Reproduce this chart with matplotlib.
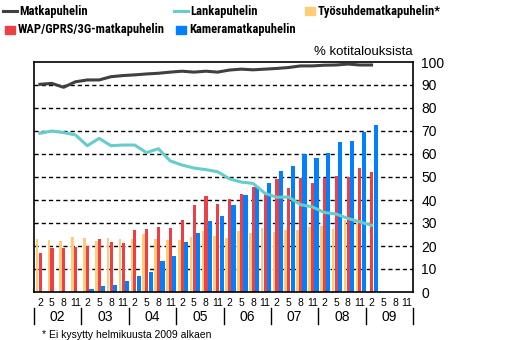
import numpy as np
import matplotlib
matplotlib.use("Agg")
import matplotlib.pyplot as plt
from matplotlib.lines import Line2D
from matplotlib.patches import Rectangle
from matplotlib.transforms import blended_transform_factory
from matplotlib import font_manager

plt.rcParams['font.family'] = ['Liberation Sans', 'DejaVu Sans']

nan = np.nan

# quarters 2002 Q(2) .. 2009 Q(2), months 2, 5, 8, 11
years = ['02', '03', '04', '05', '06', '07', '08', '09']
months = ['2', '5', '8', '11']

matka = [90.3, 90.7, 89.0, 91.4, 92.2, 92.2, 93.6, 94.1, 94.4, 94.8, 95.1, 95.6,
         96.0, 95.6, 96.0, 95.6, 96.5, 96.9, 96.6, 96.9, 97.2, 97.6, 98.3, 98.3,
         98.6, 98.7, 99.1, 98.7, 98.7]
lanka = [69.0, 70.0, 69.3, 68.3, 63.6, 66.8, 63.6, 63.9, 63.9, 60.6, 62.3, 57.0,
         55.2, 53.9, 53.2, 52.3, 49.2, 47.8, 47.2, 42.9, 41.2, 41.3, 38.0, 37.0,
         34.6, 33.9, 32.0, 30.5, 29.0]
tyosuhde = [23.2, 22.8, 22.3, 24.1, 23.6, 22.3, 23.6, 23.2, 23.1, 25.2, 23.0, 22.6,
            22.6, 23.9, 26.5, 24.3, 23.5, 26.5, 25.7, 27.8, 26.1, 27.0, 27.0, 28.3,
            28.7, 27.4, 31.3, 30.0, nan]
wap = [17.1, 19.3, 19.3, 19.7, 20.1, 23.2, 21.9, 21.4, 27.0, 27.4, 28.3, 27.8,
       31.3, 37.8, 41.7, 38.3, 40.4, 42.6, 45.7, 42.6, 49.1, 45.2, 49.6, 47.4,
       49.6, 50.4, 50.0, 53.9, 52.2]
kamera = [nan, nan, nan, nan, 1.4, 2.8, 3.2, 4.9, 7.0, 8.7, 13.3, 15.7,
          21.7, 25.7, 30.9, 33.0, 37.8, 42.2, 46.1, 47.4, 52.6, 54.8, 60.0, 58.3,
          60.4, 65.2, 65.7, 69.6, 72.6]

c_matka = '#404040'
c_lanka = '#66CCCC'
c_tyo = '#FFCC77'
c_wap = '#EE3F45'
c_kam = '#0080FF'

fig = plt.figure(figsize=(5.19, 3.40), dpi=100)
ax = fig.add_axes([34 / 519, 48 / 340, 379 / 519, 230 / 340])

x = np.arange(len(matka))
ax.bar(x - 0.24, tyosuhde, width=0.22, color=c_tyo, zorder=2)
ax.bar(x + 0.02, wap, width=0.26, color=c_wap, zorder=2)
ax.bar(x + 0.35, kamera, width=0.36, color=c_kam, zorder=2)
ax.plot(x, lanka, color=c_lanka, lw=2.2, zorder=3)
ax.plot(x, matka, color=c_matka, lw=2.2, zorder=3)

n_slots = len(years) * len(months)
ax.set_xlim(-0.5, n_slots - 0.5)
ax.set_ylim(0, 100)
ax.set_yticks(range(0, 101, 10))
ax.yaxis.tick_right()
ax.tick_params(axis='y', length=0, pad=6, labelsize=10)
for yv in range(10, 100, 10):
    ax.axhline(yv, color='black', lw=1, ls=(0, (3, 2.2)), zorder=1)
for s in ax.spines.values():
    s.set_linewidth(1.2)

ax.set_xticks(range(n_slots))
ax.set_xticklabels(months * len(years))
ax.tick_params(axis='x', length=0, pad=4, labelsize=7.5)

tr = blended_transform_factory(ax.transData, ax.transAxes)
for i in range(len(years) + 1):
    ax.plot([i * 4 - 0.5] * 2, [-0.07, -0.139], color='black', lw=1,
            transform=tr, clip_on=False)
for i, yr in enumerate(years):
    ax.text(i * 4 + 1.5, -0.108, yr, transform=tr, ha='center', va='center',
            fontsize=10)

ax.text(1.0, 1.045, '% kotitalouksista', transform=ax.transAxes, ha='right',
        va='center', fontsize=9.5)

fig.text(42 / 519, 1 - 335 / 340, '* Ei kysytty helmikuusta 2009 alkaen',
         ha='left', va='center', fontsize=7.5)

# legend, placed by hand; narrow bold face if one is there
names = {f.name for f in font_manager.fontManager.ttflist}
narrow = [n for n in ['Liberation Sans Narrow', 'DejaVu Sans Condensed', 'Roboto Condensed']
          if n in names]
if narrow:
    lfont = dict(fontsize=9, fontweight='bold', family=[narrow[0], 'DejaVu Sans'])
else:
    lfont = dict(fontsize=7.6, fontweight='bold', family=['Liberation Sans', 'DejaVu Sans'])
lfont.update(va='center', ha='left')

W, H = 519, 340
def leg_line(x0, y0, color, label):
    fig.add_artist(Line2D([x0 / W, (x0 + 14) / W], [1 - y0 / H] * 2,
                          color=color, lw=2.2))
    fig.text((x0 + 16) / W, 1 - y0 / H, label, **lfont)

def leg_box(x0, y0, color, label):
    fig.add_artist(Rectangle((x0 / W, 1 - (y0 + 4) / H), 10 / W, 8 / H,
                             color=color, transform=fig.transFigure))
    fig.text((x0 + 13) / W, 1 - y0 / H, label, **lfont)

leg_line(3, 11, c_matka, 'Matkapuhelin')
leg_line(174, 11, c_lanka, 'Lankapuhelin')
leg_box(305, 11, c_tyo, 'Työsuhdematkapuhelin*')
leg_box(5, 30, c_wap, 'WAP/GPRS/3G-matkapuhelin')
leg_box(176, 30, c_kam, 'Kameramatkapuhelin')

fig.savefig('out.png', dpi=100)
